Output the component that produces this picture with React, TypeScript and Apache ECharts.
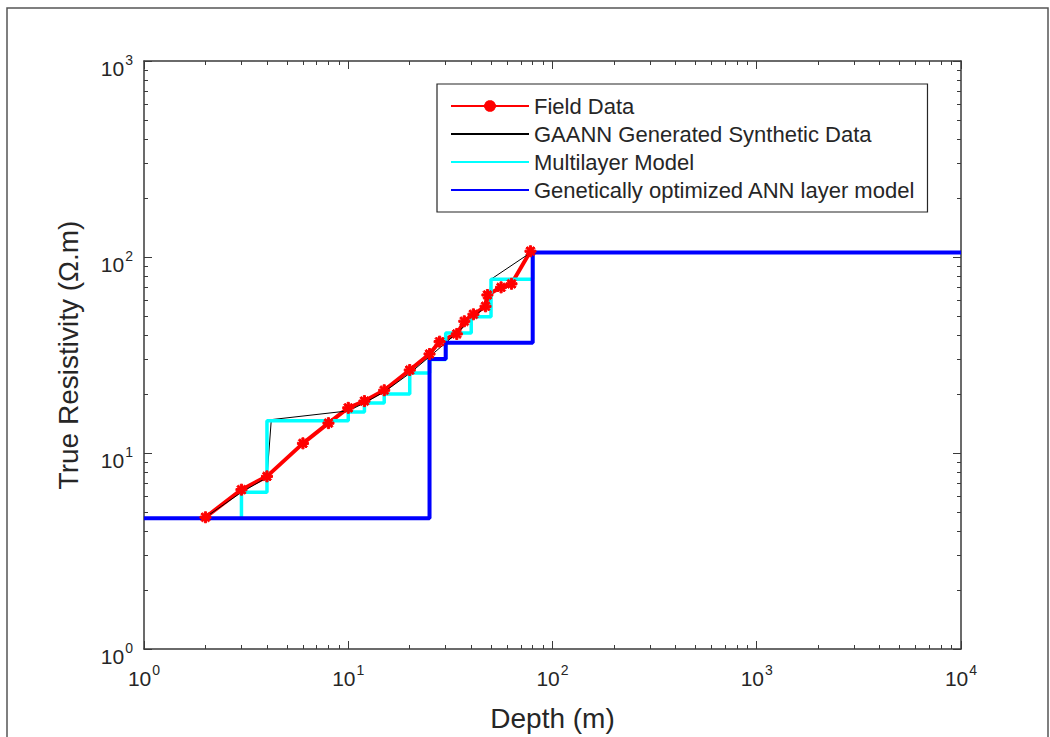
import React, { useEffect, useRef } from 'react';
import * as echarts from 'echarts';

// ---- Data ----
const xMajorTicks = [1, 10, 100, 1000, 10000];
const xMinorTicks = [2, 3, 4, 5, 6, 7, 8, 9, 20, 30, 40, 50, 60, 70, 80, 90, 200, 300, 400, 500, 600, 700, 800, 900, 2000, 3000, 4000, 5000, 6000, 7000, 8000, 9000];
const yMajorTicks = [1, 10, 100, 1000];
const yMinorTicks = [2, 3, 4, 5, 6, 7, 8, 9, 20, 30, 40, 50, 60, 70, 80, 90, 200, 300, 400, 500, 600, 700, 800, 900];

// Field data (depth m, resistivity ohm.m)
const fieldDepth = [2, 3, 4, 6, 8, 10, 12, 15, 20, 25, 28, 34, 37, 41, 47, 48, 56, 63, 78];
const fieldRes = [4.7, 6.5, 7.6, 11.2, 14.2, 17.0, 18.4, 20.9, 26.5, 32, 37, 40.5, 47, 51, 56, 64, 70, 73, 107];

// GAANN generated synthetic data
const gaannDepth = [2, 3, 4, 4.2, 10, 12, 15, 20, 25, 30, 35, 40, 49, 50, 80];
const gaannRes = [4.7, 6.3, 7.5, 14.8, 16.4, 18, 20.5, 25.5, 31, 36.5, 42, 48, 58, 77, 107];

// Multilayer model: interface depths and layer resistivities
const multiStart = 3;
const multiEnd = 80;
const multiInterfaces = [3, 4, 10, 12, 15, 20, 25, 30, 40, 50, 80];
const multiRes = [4.7, 6.3, 14.6, 16.2, 18, 20, 25.6, 30, 41, 49.5, 77, 105];

// Genetically optimized ANN layer model
const gaStart = 1;
const gaEnd = 10000;
const gaInterfaces = [25, 30, 80];
const gaRes = [4.65, 30.2, 36.5, 105.5];

const seriesNames = ['Field Data', 'GAANN Generated Synthetic Data', 'Multilayer Model', 'Genetically optimized ANN layer model'];

const FONT = "'Liberation Sans', Arial, Helvetica, sans-serif";
const AX = '#3a3a3a';
const TXT = '#262626';

function staircase(start: number, end: number, interfaces: number[], res: number[]) {
  const pts: number[][] = [[start, res[0]]];
  interfaces.forEach((d, i) => {
    pts.push([d, res[i]]);
    pts.push([d, res[i + 1]]);
  });
  pts.push([end, res[res.length - 1]]);
  return pts;
}

const asterisk =
  'path://M-1,-5L1,-5L1,5L-1,5Z M-5,-1L5,-1L5,1L-5,1Z M-4.2,-2.8L-2.8,-4.2L4.2,2.8L2.8,4.2Z M2.8,-4.2L4.2,-2.8L-2.8,4.2L-4.2,2.8Z';

const labelFmt = (v: number) => `{b|10}{s|${Math.round(Math.log10(v))}}`;
const rich = {
  b: { fontSize: 21, fontFamily: FONT, color: TXT, verticalAlign: 'bottom', lineHeight: 22 },
  s: { fontSize: 14, fontFamily: FONT, color: TXT, verticalAlign: 'bottom', lineHeight: 14, padding: [0, 0, 12, 1] },
};

export default function App() {
  const ref = useRef<HTMLDivElement>(null);
  useEffect(() => {
    const chart = echarts.init(ref.current!, null, { renderer: 'svg' });
    const baseLog = { type: 'log', logBase: 10, splitLine: { show: false } };
    const option: any = {
      animation: false,
      backgroundColor: '#fff',
      grid: { left: 144, top: 61, width: 817, height: 596 },
      graphic: [
        {
          type: 'rect',
          shape: { x: 7, y: 8, width: 1041, height: 745 },
          style: { fill: 'none', stroke: '#555', lineWidth: 1.5 },
          silent: true,
        },
      ],
      legend: {
        orient: 'vertical',
        left: 437,
        top: 84,
        itemWidth: 78,
        itemHeight: 12,
        itemGap: 6,
        padding: [11, 12, 11, 13],
        borderColor: TXT,
        borderWidth: 1.2,
        backgroundColor: '#fff',
        textStyle: { fontSize: 22, fontFamily: FONT, color: TXT },
        data: [
          { name: seriesNames[0] },
          { name: seriesNames[1], itemStyle: { opacity: 0 } },
          { name: seriesNames[2], itemStyle: { opacity: 0 } },
          { name: seriesNames[3], itemStyle: { opacity: 0 } },
        ],
      },
      xAxis: [
        {
          ...baseLog, min: 1, max: 10000, position: 'bottom',
          axisLine: { show: true, lineStyle: { color: AX, width: 1.5 } },
          axisTick: { show: true, inside: true, length: 8, customValues: xMajorTicks, lineStyle: { color: AX } },
          axisLabel: { show: true, customValues: xMajorTicks, formatter: labelFmt, rich, margin: 18 },
          name: 'Depth (m)', nameLocation: 'middle', nameGap: 55,
          nameTextStyle: { fontSize: 28, fontFamily: FONT, color: TXT },
        },
        {
          ...baseLog, min: 1, max: 10000, position: 'bottom',
          axisLine: { show: false },
          axisTick: { show: true, inside: true, length: 4, customValues: xMinorTicks, lineStyle: { color: AX } },
          axisLabel: { show: false },
        },
        {
          ...baseLog, min: 1, max: 10000, position: 'top',
          axisLine: { show: true, lineStyle: { color: AX, width: 1.5 } },
          axisTick: { show: true, inside: true, length: 8, customValues: xMajorTicks, lineStyle: { color: AX } },
          axisLabel: { show: false },
        },
        {
          ...baseLog, min: 1, max: 10000, position: 'top',
          axisLine: { show: false },
          axisTick: { show: true, inside: true, length: 4, customValues: xMinorTicks, lineStyle: { color: AX } },
          axisLabel: { show: false },
        },
      ],
      yAxis: [
        {
          ...baseLog, min: 1, max: 1000, position: 'left',
          axisLine: { show: true, lineStyle: { color: AX, width: 1.5 } },
          axisTick: { show: true, inside: true, length: 8, customValues: yMajorTicks, lineStyle: { color: AX } },
          axisLabel: { show: true, customValues: yMajorTicks, formatter: labelFmt, rich, margin: 11, padding: [14, 0, 0, 0] },
          name: 'True Resistivity (\u03A9.m)', nameLocation: 'middle', nameGap: 62,
          nameTextStyle: { fontSize: 28, fontFamily: FONT, color: TXT },
        },
        {
          ...baseLog, min: 1, max: 1000, position: 'left',
          axisLine: { show: false },
          axisTick: { show: true, inside: true, length: 4, customValues: yMinorTicks, lineStyle: { color: AX } },
          axisLabel: { show: false },
        },
        {
          ...baseLog, min: 1, max: 1000, position: 'right',
          axisLine: { show: true, lineStyle: { color: AX, width: 1.5 } },
          axisTick: { show: true, inside: true, length: 8, customValues: yMajorTicks, lineStyle: { color: AX } },
          axisLabel: { show: false },
        },
        {
          ...baseLog, min: 1, max: 1000, position: 'right',
          axisLine: { show: false },
          axisTick: { show: true, inside: true, length: 4, customValues: yMinorTicks, lineStyle: { color: AX } },
          axisLabel: { show: false },
        },
      ],
      series: [
        {
          name: seriesNames[0], type: 'line', xAxisIndex: 0, yAxisIndex: 0,
          data: fieldDepth.map((d, i) => [d, fieldRes[i]]),
          symbol: asterisk, symbolSize: 11, showSymbol: true,
          lineStyle: { color: '#ff0000', width: 4 },
          itemStyle: { color: '#ff0000', borderColor: '#ff0000', borderWidth: 1 },
        },
        {
          name: seriesNames[1], type: 'line', xAxisIndex: 0, yAxisIndex: 0,
          data: gaannDepth.map((d, i) => [d, gaannRes[i]]),
          symbol: 'none',
          lineStyle: { color: '#000000', width: 1 },
          itemStyle: { color: '#000000' },
        },
        {
          name: seriesNames[2], type: 'line', xAxisIndex: 0, yAxisIndex: 0,
          data: staircase(multiStart, multiEnd, multiInterfaces, multiRes),
          symbol: 'none',
          lineStyle: { color: '#00ffff', width: 3.5 },
          itemStyle: { color: '#00ffff' },
        },
        {
          name: seriesNames[3], type: 'line', xAxisIndex: 0, yAxisIndex: 0,
          data: staircase(gaStart, gaEnd, gaInterfaces, gaRes),
          symbol: 'none',
          lineStyle: { color: '#0000ff', width: 4 },
          itemStyle: { color: '#0000ff' },
        },
      ],
    };
    chart.setOption(option);
    return () => chart.dispose();
  }, []);
  return (
    <div
      ref={ref}
      style={{ position: 'absolute', left: 0, top: 0, width: 1050, height: 737, background: '#fff' }}
    />
  );
}
